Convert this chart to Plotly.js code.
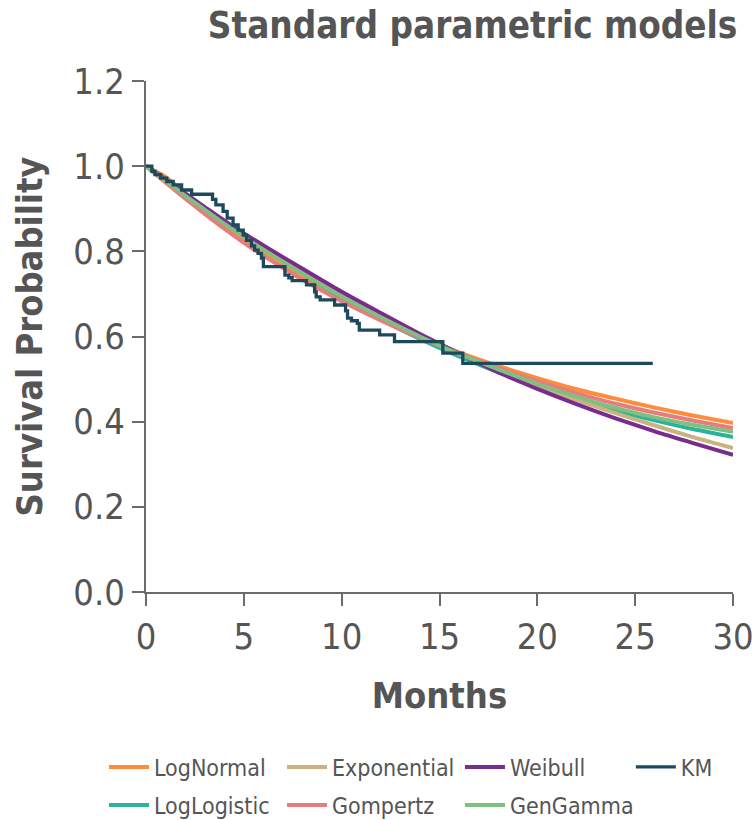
<!DOCTYPE html>
<html>
<head>
<meta charset="utf-8">
<script src="https://cdn.plot.ly/plotly-3.0.1.min.js"></script>
<style>
  html, body { margin: 0; padding: 0; background: #fff; }
  #chart { width: 754px; height: 820px; }
</style>
</head>
<body>
<div id="chart"></div>
<script>
// Months at which the fitted survival curves are evaluated
const months = [0, 1, 2, 3, 4, 5, 6, 8, 10, 12, 14, 16, 18, 20, 22, 24, 26, 28, 30];

// Fitted survival probabilities for each parametric model
const logNormal   = [1.000, 0.975, 0.937, 0.897, 0.860, 0.826, 0.794, 0.737, 0.686, 0.640, 0.599, 0.563, 0.531, 0.502, 0.476, 0.454, 0.433, 0.414, 0.397];
const logLogistic = [1.000, 0.968, 0.935, 0.902, 0.870, 0.838, 0.807, 0.748, 0.692, 0.640, 0.594, 0.553, 0.516, 0.483, 0.453, 0.426, 0.403, 0.382, 0.364];
const exponential = [1.000, 0.965, 0.930, 0.897, 0.865, 0.835, 0.805, 0.749, 0.696, 0.648, 0.603, 0.561, 0.521, 0.485, 0.451, 0.420, 0.391, 0.363, 0.338];
const gompertz    = [1.000, 0.962, 0.924, 0.888, 0.853, 0.820, 0.790, 0.733, 0.683, 0.638, 0.597, 0.560, 0.526, 0.495, 0.467, 0.442, 0.421, 0.402, 0.385];
const weibull     = [1.000, 0.969, 0.936, 0.904, 0.872, 0.842, 0.814, 0.759, 0.705, 0.655, 0.606, 0.560, 0.516, 0.477, 0.441, 0.408, 0.377, 0.349, 0.322];
const genGamma    = [1.000, 0.966, 0.931, 0.898, 0.865, 0.834, 0.804, 0.747, 0.694, 0.645, 0.600, 0.559, 0.523, 0.489, 0.459, 0.432, 0.410, 0.392, 0.376];

// Kaplan-Meier estimate: event times and survival after each step
const kmTime = [0, 0.30, 0.46, 0.75, 1.06, 1.39, 1.82, 2.33, 3.40, 3.57, 3.94, 4.15, 4.45, 4.71, 4.97, 5.14, 5.39, 5.55, 5.73, 5.90, 6.00, 7.10, 7.30, 7.47, 8.20, 8.62, 8.70, 8.90, 9.64, 10.20, 10.30, 10.50, 10.80, 10.90, 11.94, 12.70, 15.17, 16.19, 25.90];
const kmSurv = [1.000, 0.988, 0.980, 0.972, 0.964, 0.956, 0.944, 0.934, 0.922, 0.909, 0.894, 0.878, 0.862, 0.850, 0.838, 0.826, 0.813, 0.803, 0.795, 0.784, 0.764, 0.744, 0.738, 0.731, 0.721, 0.705, 0.693, 0.686, 0.674, 0.660, 0.643, 0.637, 0.631, 0.615, 0.604, 0.588, 0.561, 0.537, 0.537];

const xTicks = [0, 5, 10, 15, 20, 25, 30];
const yTicks = [0.0, 0.2, 0.4, 0.6, 0.8, 1.0, 1.2];

const FONT = '"DejaVu Sans Condensed", "DejaVu Sans", sans-serif';
const INK = '#555555';
const AXIS = '#6b6b6b';

function curve(name, y, color, legendId) {
  return {
    type: 'scatter', mode: 'lines', name: name,
    x: months, y: y,
    line: { color: color, width: 4, shape: 'spline', smoothing: 0.6 },
    legend: legendId, hoverinfo: 'skip'
  };
}

// Drawing order; the legend is laid out as a grid of separate one-row legends
const traces = [
  curve('LogNormal',   logNormal,   '#fd8d3c', 'legend'),
  curve('LogLogistic', logLogistic, '#2ab39c', 'legend2'),
  curve('Exponential', exponential, '#c9b37f', 'legend'),
  curve('Gompertz',    gompertz,    '#e77c7e', 'legend2'),
  curve('Weibull',     weibull,     '#7a2c8e', 'legend'),
  curve('GenGamma',    genGamma,    '#7fbf7f', 'legend2'),
  {
    type: 'scatter', mode: 'lines', name: 'KM',
    x: kmTime, y: kmSurv,
    line: { color: '#1c4a5c', width: 3.3, shape: 'hv' },
    legend: 'legend3', hoverinfo: 'skip'
  }
];

function legendRow(xPaper, yPaper, fixedWidth) {
  const lg = {
    orientation: 'h', traceorder: 'normal',
    xref: 'paper', x: xPaper, xanchor: 'left',
    yref: 'paper', y: yPaper, yanchor: 'middle',
    itemwidth: 40,
    font: { family: FONT, size: 23, color: INK },
    bgcolor: 'rgba(0,0,0,0)', borderwidth: 0
  };
  if (fixedWidth) { lg.entrywidth = 123; lg.entrywidthmode = 'pixels'; }
  return lg;
}

const layout = {
  width: 754, height: 820,
  margin: { l: 146, r: 21, t: 81, b: 228, autoexpand: false },
  paper_bgcolor: '#ffffff', plot_bgcolor: '#ffffff',
  font: { family: FONT, color: INK },
  showlegend: true,
  title: {
    text: 'Standard parametric models',
    font: { family: FONT, size: 36.5, color: INK, weight: 700 },
    xref: 'container', x: 0.978, xanchor: 'right',
    yref: 'container', y: 0.969, yanchor: 'middle'
  },
  xaxis: {
    range: [0, 30], tickvals: xTicks, ticktext: xTicks.map(String),
    showline: true, linecolor: AXIS, linewidth: 2,
    ticks: 'outside', ticklen: 12, tickwidth: 2, tickcolor: AXIS,
    showgrid: false, zeroline: false,
    tickfont: { family: FONT, size: 36, color: INK },
    title: { text: 'Months', standoff: 27, font: { family: FONT, size: 36, color: INK, weight: 700 } }
  },
  yaxis: {
    range: [0, 1.2], tickvals: yTicks, ticktext: yTicks.map(v => v.toFixed(1)),
    showline: true, linecolor: AXIS, linewidth: 2,
    ticks: 'outside', ticklen: 12, tickwidth: 2, tickcolor: AXIS,
    showgrid: false, zeroline: false,
    tickfont: { family: FONT, size: 36, color: INK },
    title: { text: 'Survival Probability', standoff: 20, font: { family: FONT, size: 36, color: INK, weight: 700 } }
  },
  legend:  legendRow(-0.0716, -0.3425, true),
  legend2: legendRow(-0.0716, -0.4168, true),
  legend3: legendRow(0.826, -0.3425, false)
};

Plotly.newPlot('chart', traces, layout, { displayModeBar: false, staticPlot: true });
</script>
</body>
</html>
